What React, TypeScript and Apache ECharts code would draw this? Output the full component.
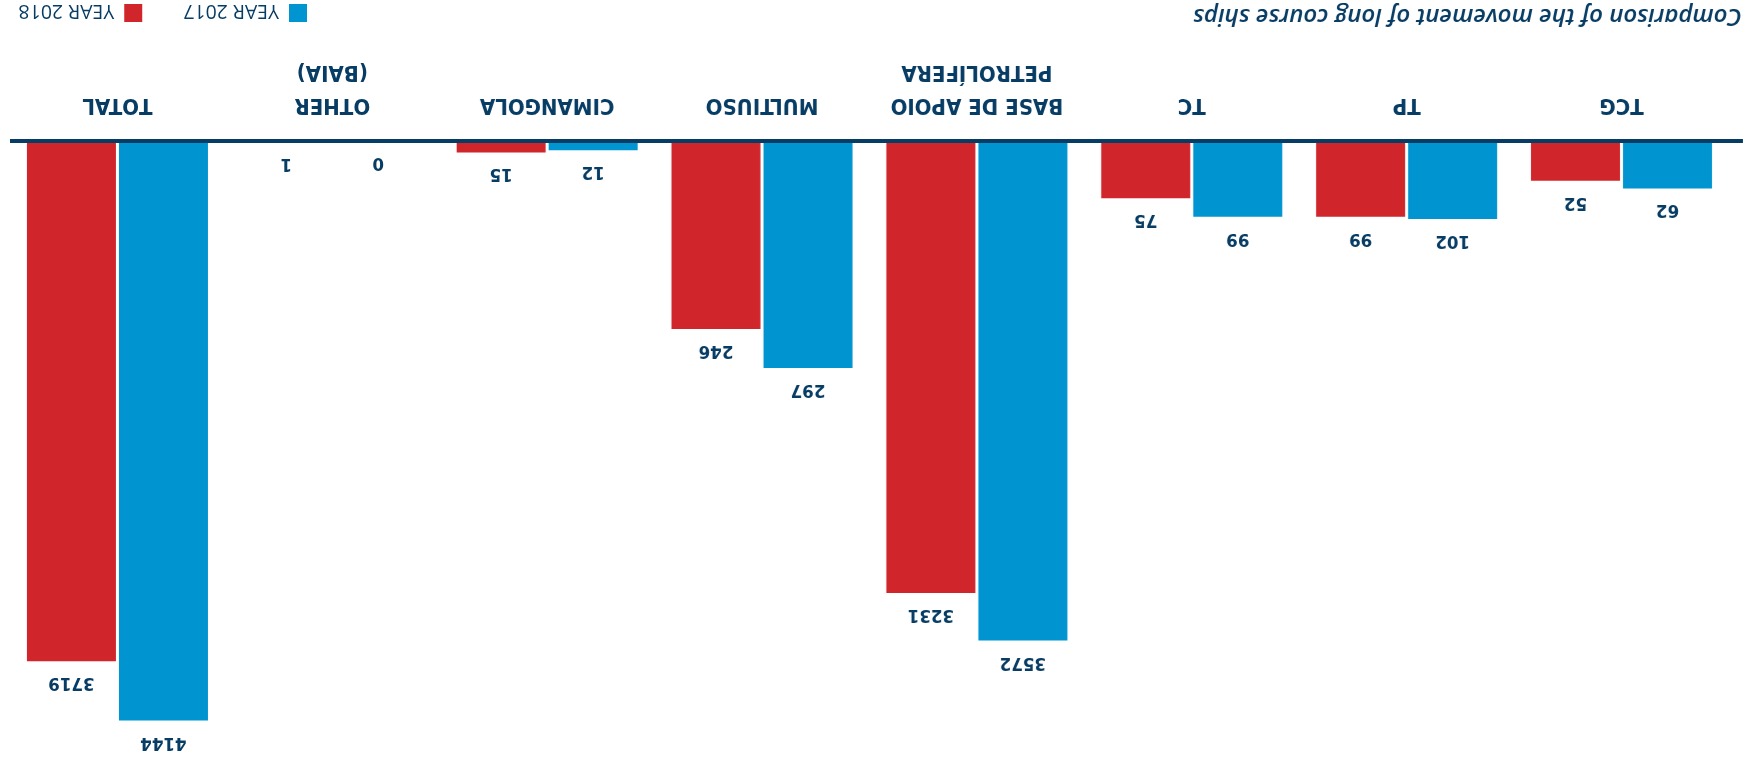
import React, { useEffect, useRef } from "react";
import * as echarts from "echarts";

// Data (the picture is shown rotated by 180°)
const categories = [
  "TCG",
  "TP",
  "TC",
  "BASE DE APOIO\nPETROLÍFERA",
  "MULTIUSO",
  "CIMANGOLA",
  "OTHER\n(BAIA)",
  "TOTAL",
];
const year2017 = [62, 102, 99, 3572, 297, 12, 0, 4144];
const year2018 = [52, 99, 75, 3231, 246, 15, 1, 3719];
// categories drawn on the compressed (second) value scale in the original
const largeScaleCategories = ["BASE DE APOIO\nPETROLÍFERA", "TOTAL"];
const seriesNames = ["YEAR 2017", "YEAR 2018"];
const chartTitle = "Comparison of the movement of long course ships";
const smallScaleMax = 785;
const largeScaleMax = 4290;

const NAVY = "#073c64";
const BLUE = "#0094d1";
const RED = "#d1252c";
const NARROW = "'Liberation Sans Narrow', 'DejaVu Sans Condensed', 'Roboto', sans-serif";

export default function App() {
  const ref = useRef<HTMLDivElement>(null);

  useEffect(() => {
    if (!ref.current) return;
    const chart = echarts.init(ref.current, null, { renderer: "svg" });

    const pick = (vals: number[], large: boolean) =>
      vals.map((v, i) =>
        largeScaleCategories.includes(categories[i]) === large ? v : "-"
      );

    const label = {
      show: true,
      position: "top",
      distance: 14,
      color: NAVY,
      fontFamily: NARROW,
      fontWeight: "bold",
      fontSize: 18.5,
    };

    const mk = (name: string, color: string, data: any[], axis: number) => ({
      name,
      type: "bar",
      xAxisIndex: axis,
      yAxisIndex: axis,
      data,
      barWidth: 89,
      barGap: "3.4%",
      itemStyle: { color },
      label,
      z: 2,
    });

    const catAxis = (show: boolean) => ({
      type: "category",
      data: categories,
      show,
      position: "bottom",
      axisLine: { show: false },
      axisTick: { show: false },
      axisLabel: {
        show,
        interval: 0,
        margin: 18,
        color: NAVY,
        fontFamily: NARROW,
        fontWeight: "bold",
        fontSize: 22,
        lineHeight: 33,
      },
    });

    chart.setOption({
      animation: false,
      backgroundColor: "#ffffff",
      title: {
        text: chartTitle,
        left: 6,
        top: 730,
        padding: 0,
        textStyle: {
          color: NAVY,
          fontFamily: "'Open Sans', sans-serif",
          fontStyle: "italic",
          fontWeight: 600,
          fontSize: 24,
        },
      },
      legend: {
        data: seriesNames,
        left: 1441,
        top: 738,
        padding: 0,
        icon: "rect",
        itemWidth: 18,
        itemHeight: 18,
        itemGap: 41,
        textStyle: {
          color: NAVY,
          fontFamily: "'Open Sans', sans-serif",
          fontSize: 19.5,
          padding: [0, 0, 0, 5],
        },
      },
      grid: { left: 19, width: 1719, top: 20, bottom: 141, containLabel: false },
      xAxis: [catAxis(true), catAxis(false)],
      yAxis: [
        { type: "value", min: 0, max: smallScaleMax, show: false, splitLine: { show: false } },
        { type: "value", min: 0, max: largeScaleMax, show: false, splitLine: { show: false } },
      ],
      graphic: [
        {
          type: "line",
          z: 100,
          shape: { x1: 5, y1: 620, x2: 1738, y2: 620 },
          style: { stroke: NAVY, lineWidth: 4 },
        },
      ],
      series: [
        mk(seriesNames[0], BLUE, pick(year2017, false), 0),
        mk(seriesNames[1], RED, pick(year2018, false), 0),
        mk(seriesNames[0], BLUE, pick(year2017, true), 1),
        mk(seriesNames[1], RED, pick(year2018, true), 1),
      ],
    });

    return () => chart.dispose();
  }, []);

  return (
    <div
      ref={ref}
      style={{
        position: "fixed",
        left: 0,
        top: 0,
        width: 1748,
        height: 761,
        transform: "rotate(180deg)",
      }}
    />
  );
}
